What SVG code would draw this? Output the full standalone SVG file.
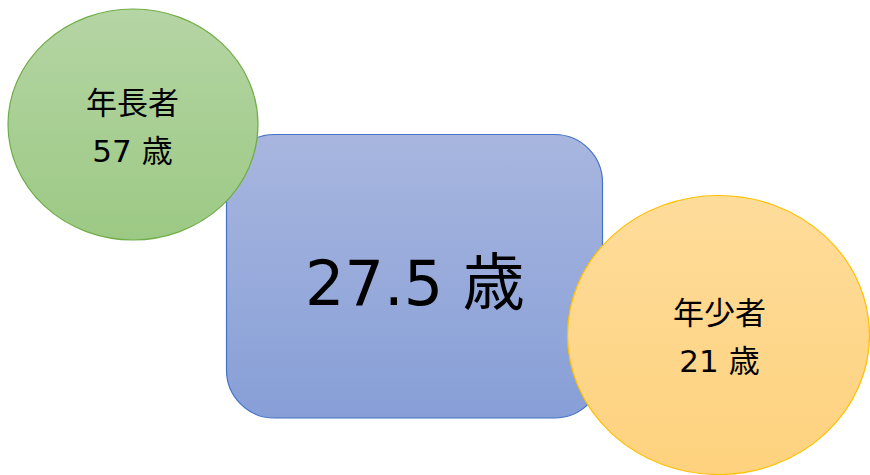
<svg xmlns="http://www.w3.org/2000/svg" width="870" height="475" viewBox="0 0 870 475">
<defs>
<linearGradient id="gBlue" x1="0" y1="0" x2="0" y2="1"><stop offset="0" stop-color="#a8b6df"/><stop offset="1" stop-color="#879fd7"/></linearGradient>
<linearGradient id="gGreen" x1="0" y1="0" x2="0" y2="1"><stop offset="0" stop-color="#b5d5a4"/><stop offset="1" stop-color="#9cc984"/></linearGradient>
<linearGradient id="gOrange" x1="0" y1="0" x2="0" y2="1"><stop offset="0" stop-color="#fedc9a"/><stop offset="1" stop-color="#fed27e"/></linearGradient>
<style>
text{font-family:"DejaVu Sans","Noto Sans CJK JP",sans-serif;fill:#000;text-anchor:middle}
.s{font-size:31px}
.b{font-size:62px}
</style>
</defs>
<g id="connectors"></g>
<g id="average">
<rect x="226.5" y="134.5" width="376" height="283.5" rx="48" ry="48" fill="url(#gBlue)" stroke="#4472c4" stroke-width="1.2"/>
<text class="b" x="415" y="305">27.5 歳</text>
</g>
<g id="oldest">
<ellipse cx="133" cy="124.5" rx="125" ry="115.5" fill="url(#gGreen)" stroke="#70ad47" stroke-width="1.2"/>
<text class="s" x="132.5" y="114">年長者</text>
<text class="s" x="132.5" y="162">57 歳</text>
</g>
<g id="youngest">
<ellipse cx="718.5" cy="335" rx="151" ry="139.5" fill="url(#gOrange)" stroke="#ffc000" stroke-width="1.2"/>
<text class="s" x="719.5" y="324">年少者</text>
<text class="s" x="719.5" y="372">21 歳</text>
</g>
</svg>
